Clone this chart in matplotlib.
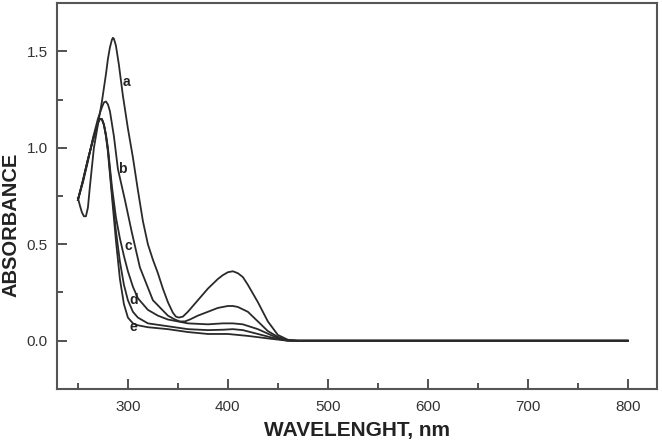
import matplotlib
matplotlib.use("Agg")
import matplotlib.pyplot as plt
from matplotlib.ticker import MultipleLocator

plt.rcParams['font.family'] = ['Liberation Sans', 'DejaVu Sans']

# spectra (nm, absorbance)
wl_a = [250, 252, 254, 256, 258, 260, 262, 266, 270, 274, 278, 280, 282, 284, 285, 286, 288,
        291, 295, 300, 305, 310, 315, 320, 325, 330, 335, 340, 345, 348, 351, 355, 360, 370,
        380, 390, 395, 400, 405, 410, 415, 420, 430, 440, 450, 460, 470, 500, 600, 700, 800]
abs_a = [0.74, 0.70, 0.665, 0.645, 0.645, 0.69, 0.80, 1.00, 1.12, 1.24, 1.38, 1.46, 1.52, 1.56,
         1.57, 1.565, 1.53, 1.43, 1.27, 1.10, 0.95, 0.78, 0.62, 0.50, 0.42, 0.35, 0.27, 0.20,
         0.145, 0.125, 0.12, 0.125, 0.15, 0.21, 0.27, 0.32, 0.34, 0.355, 0.36, 0.35, 0.33,
         0.29, 0.20, 0.10, 0.03, 0.005, 0.0, 0.0, 0.0, 0.0, 0.0]

wl_b = [250, 255, 260, 265, 270, 274, 276, 278, 280, 282, 286, 290, 297, 304, 312, 325, 340,
        347, 352, 357, 362, 370, 380, 390, 400, 405, 410, 420, 430, 440, 450, 460, 470, 500,
        600, 700, 800]
abs_b = [0.73, 0.82, 0.93, 1.05, 1.15, 1.21, 1.235, 1.24, 1.225, 1.19, 1.06, 0.89, 0.73, 0.56,
         0.38, 0.21, 0.13, 0.11, 0.10, 0.10, 0.11, 0.13, 0.15, 0.17, 0.18, 0.18, 0.175, 0.15,
         0.10, 0.05, 0.02, 0.003, 0.0, 0.0, 0.0, 0.0, 0.0]

wl_c = [250, 255, 260, 265, 270, 272, 274, 276, 278, 280, 284, 288, 292, 296, 300, 305, 310,
        320, 330, 340, 360, 380, 395, 405, 415, 430, 445, 455, 465, 500, 600, 700, 800]
abs_c = [0.73, 0.83, 0.94, 1.04, 1.13, 1.15, 1.148, 1.12, 1.07, 1.00, 0.80, 0.64, 0.53, 0.44,
         0.36, 0.28, 0.22, 0.16, 0.13, 0.11, 0.09, 0.085, 0.09, 0.09, 0.085, 0.06, 0.025,
         0.005, 0.0, 0.0, 0.0, 0.0, 0.0]

wl_d = [250, 255, 260, 265, 270, 272, 274, 276, 278, 280, 284, 288, 292, 296, 300, 305, 310,
        320, 340, 360, 380, 395, 405, 415, 430, 445, 460, 500, 600, 700, 800]
abs_d = [0.73, 0.83, 0.94, 1.04, 1.13, 1.15, 1.148, 1.12, 1.065, 0.99, 0.77, 0.57, 0.41, 0.29,
         0.21, 0.15, 0.12, 0.09, 0.075, 0.06, 0.055, 0.057, 0.06, 0.055, 0.035, 0.015, 0.0,
         0.0, 0.0, 0.0, 0.0]

wl_e = [250, 255, 260, 265, 270, 272, 274, 276, 278, 280, 284, 288, 292, 296, 300, 305, 310,
        320, 340, 360, 380, 400, 410, 420, 440, 460, 500, 600, 700, 800]
abs_e = [0.73, 0.83, 0.94, 1.04, 1.13, 1.15, 1.148, 1.12, 1.06, 0.98, 0.75, 0.52, 0.32, 0.19,
         0.12, 0.09, 0.08, 0.07, 0.06, 0.045, 0.035, 0.035, 0.03, 0.025, 0.012, 0.0, 0.0,
         0.0, 0.0, 0.0]

curves = [(wl_a, abs_a), (wl_b, abs_b), (wl_c, abs_c), (wl_d, abs_d), (wl_e, abs_e)]
labels = ["a", "b", "c", "d", "e"]
label_x = [299, 294, 300, 306, 305]
label_y = [1.34, 0.89, 0.49, 0.21, 0.07]

fig = plt.figure(figsize=(6.62, 4.41), dpi=100)
ax = fig.add_axes([0.086, 0.118, 0.906, 0.875])

for wl, ab in curves:
    ax.plot(wl, ab, color="#2a2a2a", lw=1.3)

for lab, x, y in zip(labels, label_x, label_y):
    ax.text(x, y, lab, fontsize=10, fontweight="bold", color="#222222",
            ha="center", va="center")

ax.set_xlim(229, 829)
ax.set_ylim(-0.25, 1.75)
ax.xaxis.set_minor_locator(MultipleLocator(50))
ax.yaxis.set_minor_locator(MultipleLocator(0.25))
ax.set_xticks(range(300, 801, 100))
ax.set_yticks([0.0, 0.5, 1.0, 1.5])
ax.set_yticklabels(["0.0", "0.5", "1.0", "1.5"])
ax.tick_params(which="both", direction="in", colors="#444444", labelcolor="#333333",
               labelsize=11, width=1.3)
ax.tick_params(which="major", length=7)
ax.tick_params(which="minor", length=4)
ax.tick_params(axis="x", which="major", pad=8)
ax.tick_params(axis="y", which="major", pad=6.5)
for s in ax.spines.values():
    s.set_color("#555555")
    s.set_linewidth(1.5)

ax.set_xlabel("WAVELENGHT, nm", fontsize=15, fontweight="bold", color="#222222", labelpad=5)
ax.set_ylabel("ABSORBANCE", fontsize=14.5, fontweight="bold", color="#222222")
ax.yaxis.set_label_coords(-0.06, 0.425)

fig.savefig("out.png", dpi=100)
